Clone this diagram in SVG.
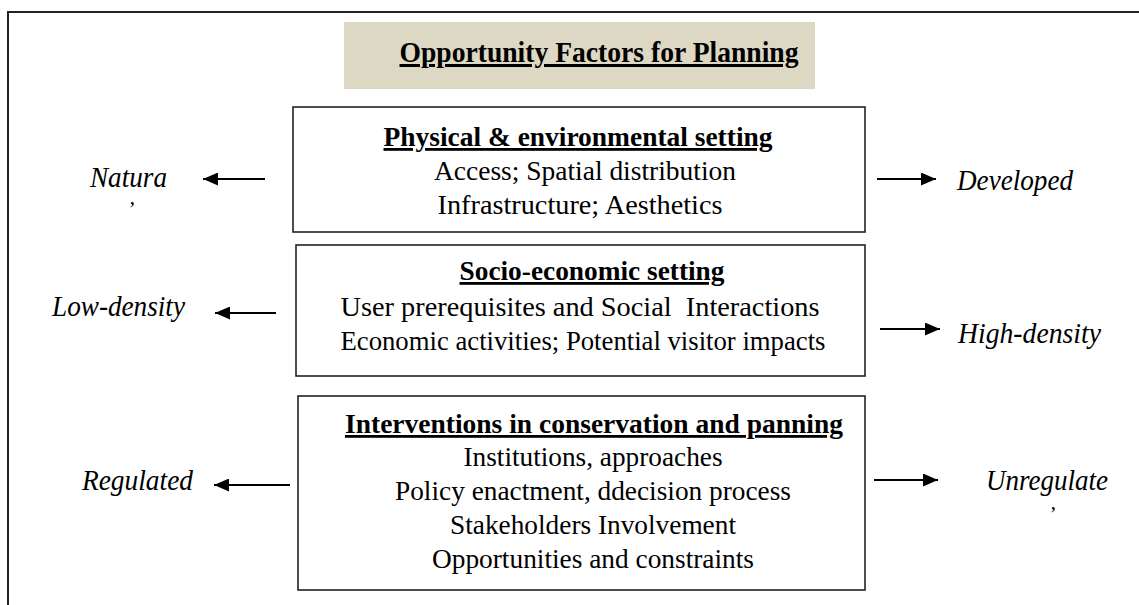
<svg xmlns="http://www.w3.org/2000/svg" width="1139" height="605" viewBox="0 0 1139 605">
<defs>
<style>
text{font-family:"Liberation Serif","Times New Roman",serif;fill:#000;}
.h{font-size:28px;font-weight:bold;text-decoration:underline;}
.b{font-size:28px;}
.t{font-size:30px;font-weight:bold;text-decoration:underline;}
.s{font-size:29px;font-style:italic;}
.m{font-size:22px;font-style:italic;}
.box{fill:#fff;stroke:#222;stroke-width:1.6;}
.frame{fill:none;stroke:#222;stroke-width:2;}
.arr{stroke:#000;stroke-width:2;fill:none;marker-end:url(#ah);}
</style>
<marker id="ah" viewBox="0 0 15 13" refX="15" refY="6.5" markerWidth="15" markerHeight="13" markerUnits="userSpaceOnUse" orient="auto">
<path d="M0,0 L15,6.5 L0,13 Z" fill="#000"/>
</marker>
</defs>
<rect width="1139" height="605" fill="#fff"/>
<path class="frame" d="M8,610 L8,12 L1145,12"/>
<g id="title">
<rect x="344" y="22" width="471" height="67" fill="#DCD8C3"/>
<text class="t" x="599" y="62" text-anchor="middle" textLength="399" lengthAdjust="spacingAndGlyphs">Opportunity Factors for Planning</text>
</g>
<g id="physical">
<rect class="box" x="293" y="107" width="572" height="125"/>
<text class="h" x="578" y="146" text-anchor="middle" textLength="389" lengthAdjust="spacingAndGlyphs">Physical &amp; environmental setting</text>
<text class="b" x="585" y="180" text-anchor="middle" textLength="302" lengthAdjust="spacingAndGlyphs">Access; Spatial distribution</text>
<text class="b" x="580" y="214" text-anchor="middle" textLength="285" lengthAdjust="spacingAndGlyphs">Infrastructure; Aesthetics</text>
</g>
<g id="socio">
<rect class="box" x="296" y="245" width="569" height="131"/>
<text class="h" x="592" y="280" text-anchor="middle" textLength="265" lengthAdjust="spacingAndGlyphs">Socio-economic setting</text>
<text class="b" x="580" y="316" text-anchor="middle" textLength="479" lengthAdjust="spacingAndGlyphs" xml:space="preserve">User prerequisites and Social  Interactions</text>
<text class="b" x="583" y="350" text-anchor="middle" textLength="485" lengthAdjust="spacingAndGlyphs">Economic activities; Potential visitor impacts</text>
</g>
<g id="interventions">
<rect class="box" x="298" y="396" width="567" height="194"/>
<text class="h" x="594" y="433" text-anchor="middle" textLength="498" lengthAdjust="spacingAndGlyphs">Interventions in conservation and panning</text>
<text class="b" x="593" y="466" text-anchor="middle" textLength="259" lengthAdjust="spacingAndGlyphs">Institutions, approaches</text>
<text class="b" x="593" y="500" text-anchor="middle" textLength="396" lengthAdjust="spacingAndGlyphs">Policy enactment, ddecision process</text>
<text class="b" x="593" y="534" text-anchor="middle" textLength="286" lengthAdjust="spacingAndGlyphs">Stakeholders Involvement</text>
<text class="b" x="593" y="568" text-anchor="middle" textLength="322" lengthAdjust="spacingAndGlyphs">Opportunities and constraints</text>
</g>
<g id="natural">
<text class="s" x="90" y="187" textLength="77" lengthAdjust="spacingAndGlyphs">Natura</text>
<text class="m" x="127" y="216">’</text>
</g>
<g id="developed"><text class="s" x="957" y="190" textLength="116" lengthAdjust="spacingAndGlyphs">Developed</text></g>
<g id="lowdensity"><text class="s" x="52" y="316" textLength="133" lengthAdjust="spacingAndGlyphs">Low-density</text></g>
<g id="highdensity"><text class="s" x="958" y="343" textLength="143" lengthAdjust="spacingAndGlyphs">High-density</text></g>
<g id="regulated"><text class="s" x="82" y="490" textLength="111" lengthAdjust="spacingAndGlyphs">Regulated</text></g>
<g id="unregulated">
<text class="s" x="986" y="490" textLength="122" lengthAdjust="spacingAndGlyphs">Unregulate</text>
<text class="m" x="1048" y="521">’</text>
</g>
<g id="connectors">
<line class="arr" x1="265" y1="179" x2="203" y2="179"/>
<line class="arr" x1="276" y1="313" x2="215" y2="313"/>
<line class="arr" x1="290" y1="485" x2="214" y2="485"/>
<line class="arr" x1="877" y1="179" x2="936" y2="179"/>
<line class="arr" x1="880" y1="329" x2="940" y2="329"/>
<line class="arr" x1="874" y1="480" x2="938" y2="480"/>
</g>
</svg>
